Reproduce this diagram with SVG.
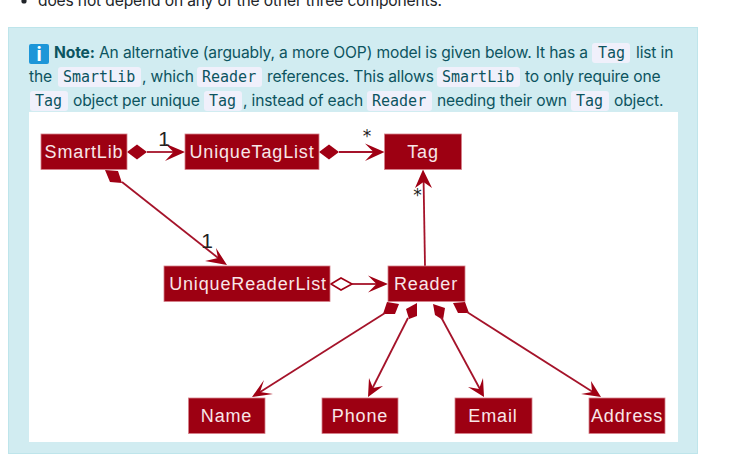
<svg xmlns="http://www.w3.org/2000/svg" width="733" height="454" viewBox="0 0 733 454">
<style>
.t{font-family:Inter,"Liberation Sans",sans-serif;font-size:15.6px;letter-spacing:-.15px;fill:#0c5460}
.b{font-weight:700}
.c{font-family:"DejaVu Sans Mono",monospace;font-size:15px;fill:#0c5460}
.cb{fill:#f0f0fb;rx:3px}
.n{fill:#9d0012;stroke:#d5808a;stroke-width:.8}
.l{font-family:"Liberation Sans",sans-serif;font-size:18px;letter-spacing:.85px;fill:#f8e6e8;text-anchor:middle}
.m{font-family:"Liberation Sans",sans-serif;font-size:21px;fill:#222;text-anchor:middle}
.s{font-family:"DejaVu Sans",sans-serif;font-size:17px;fill:#222;text-anchor:middle}
.e{fill:none;stroke:#a5132a;stroke-width:1.8}
.a{fill:#a00014}
</style>
<rect width="733" height="454" fill="#fff"/>
<text class="t" x="38" y="6" style="fill:#212529">does not depend on any of the other three components.</text>
<circle cx="24" cy="1" r="2.6" fill="#212529"/>
<rect x="8.500" y="27.500" width="689" height="426" fill="#d1ecf1" stroke="#bee5eb"/>
<rect x="29" y="112" width="649" height="330" fill="#fff"/>
<g id="note">
<rect x="29" y="44" width="20" height="20" rx="2" fill="#1d96d8"/><text x="39" y="61" style="font-family:Inter,sans-serif;font-size:19px;font-weight:700;fill:#fff;text-anchor:middle">i</text>
<rect class="cb" x="592" y="43" width="38" height="20"/><rect class="cb" x="58" y="67" width="83" height="20"/><rect class="cb" x="197" y="67" width="65" height="20"/><rect class="cb" x="437" y="67" width="83" height="20"/><rect class="cb" x="30" y="91" width="38" height="20"/><rect class="cb" x="204" y="91" width="38" height="20"/><rect class="cb" x="367" y="91" width="65" height="20"/><rect class="cb" x="571" y="91" width="38" height="20"/>
<text class="t" x="54" y="58"><tspan class="b">Note:</tspan> An alternative (arguably, a more OOP) model is given below. It has a</text>
<text class="c" x="598" y="58">Tag</text><text class="t" x="636" y="58">list in</text>
<text class="t" x="29" y="82">the</text><text class="c" x="63" y="82">SmartLib</text><text class="t" x="142" y="82">, which</text><text class="c" x="202" y="82">Reader</text><text class="t" x="267" y="82">references. This allows</text><text class="c" x="442" y="82">SmartLib</text><text class="t" x="525" y="82">to only require one</text>
<text class="c" x="35" y="106">Tag</text><text class="t" x="73" y="106">object per unique</text><text class="c" x="209" y="106">Tag</text><text class="t" x="243" y="106">, instead of each</text><text class="c" x="372" y="106">Reader</text><text class="t" x="437" y="106">needing their own</text><text class="c" x="576" y="106">Tag</text><text class="t" x="614" y="106">object.</text>
</g>
<g id="connectors">
<path class="a" d="M127 152l10-7.500 10 7.500-10 7.500z"/><path class="e" d="M147 152H178"/><path class="a" d="M185 152L165 143.500 173.500 152 165 161z"/>
<path class="a" d="M319 152l10-7.500 10 7.500-10 7.500z"/><path class="e" d="M339 152H378"/><path class="a" d="M384.500 152L365 143.500 373.500 152 365 161z"/>
<path class="a" d="M105 170L118 171 122 183 110 182z"/><path class="e" d="M122 182L222 261"/><path class="a" d="M227 265L216 248 218 258 205 261z"/>
<path d="M331 284l10-6 11 6-11 6z" fill="#fff" stroke="#a00014" stroke-width="1.600"/><path class="e" d="M352 284H382"/><path class="a" d="M388 284L368 275.500 376.500 284 368 292.500z"/>
<path class="e" d="M425 266L423.500 176"/><path class="a" d="M423 169.500L415 188 423.500 182 432 188z"/>
<path class="a" d="M387 302L399 304 395 314 383 314z"/><path class="e" d="M385 313L257 394"/><path class="a" d="M252 397L264 380 260 392 273 394z"/>
<path class="a" d="M417 303L417 316 409 319 406 309z"/><path class="e" d="M408 318L371 391"/><path class="a" d="M368 397L369 378 373 388 383 386z"/>
<path class="a" d="M433 304L445 308 443 320 435 315z"/><path class="e" d="M441 317L481 391"/><path class="a" d="M484 397L483 378 479 389 468 387z"/>
<path class="a" d="M453 303L465 302 469 313 458 313z"/><path class="e" d="M467 312L596 394"/><path class="a" d="M601 397L591 381 592 392 581 394z"/>
</g>
<g id="SmartLib"><rect class="n" x="41" y="134" width="86" height="35.500"/><text class="l" x="84" y="158">SmartLib</text></g>
<g id="UniqueTagList"><rect class="n" x="185" y="134" width="134" height="35.500"/><text class="l" x="252" y="158">UniqueTagList</text></g>
<g id="Tag"><rect class="n" x="384.500" y="134" width="77" height="35.500"/><text class="l" x="423" y="158">Tag</text></g>
<g id="UniqueReaderList"><rect class="n" x="164" y="266" width="166" height="35.500"/><text class="l" x="248" y="290">UniqueReaderList</text></g>
<g id="Reader"><rect class="n" x="388" y="266" width="77" height="35.500"/><text class="l" x="426" y="290">Reader</text></g>
<g id="Name"><rect class="n" x="188.500" y="398" width="76.500" height="35.500"/><text class="l" x="226.500" y="422">Name</text></g>
<g id="Phone"><rect class="n" x="322" y="398" width="76" height="35.500"/><text class="l" x="360" y="422">Phone</text></g>
<g id="Email"><rect class="n" x="455" y="398" width="77" height="35.500"/><text class="l" x="493" y="422">Email</text></g>
<g id="Address"><rect class="n" x="589" y="398" width="76" height="35.500"/><text class="l" x="627" y="422">Address</text></g>
<g id="labels">
<text class="m" x="164" y="146">1</text><text class="s" x="367" y="142">*</text><text class="s" x="417.500" y="201">*</text><text class="m" x="207" y="248">1</text>
</g>
</svg>
